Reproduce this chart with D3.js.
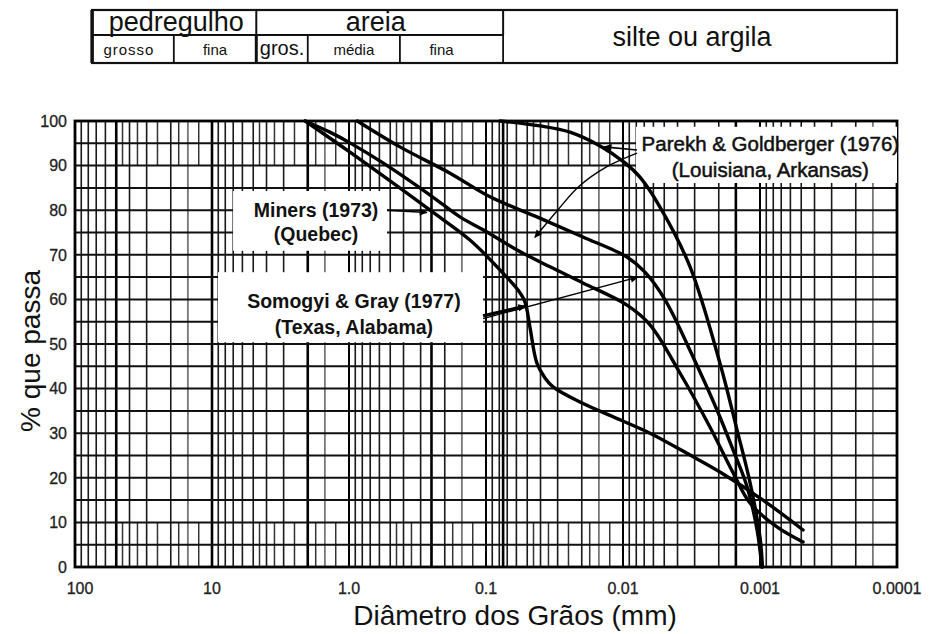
<!DOCTYPE html>
<html>
<head>
<meta charset="utf-8">
<script src="https://cdn.jsdelivr.net/npm/d3@7"></script>
<style>
  html, body { margin: 0; padding: 0; background: #fff; }
  svg { display: block; font-family: "Liberation Sans", Arial, Helvetica, sans-serif; }
</style>
</head>
<body>
<svg id="chart" width="930" height="634"></svg>
<script>
// ---- Axis values ----------------------------------------------------------
const decadeValues = [100, 10, 1, 0.1, 0.01, 0.001, 0.0001];
const decadeLabels = ["100", "10", "1.0", "0.1", "0.01", "0.001", "0.0001"];
const percentTicks = [0, 10, 20, 30, 40, 50, 60, 70, 80, 90, 100];
const percentGrid = [0, 5, 10, 15, 20, 25, 30, 35, 40, 45, 50, 55, 60, 65, 70, 75, 80, 85, 90, 95, 100];

// log-paper rulings inside each decade, sieve openings drawn heavier,
// and the short rulings of the top and bottom bands
const gridMultiples = [2, 3, 4, 5, 6, 7, 8, 9];
const lightMultiples = [1.5];
const sieveOpenings = [50, 10, 2.0, 0.25, 0.075, 0.0015];
const bandMultiples = [1.25, 1.75, 2.5, 3.5, 4.5];
const bandDecades = [10, 1, 0.1, 0.01];

// ---- Soil classification header (diameter limits, mm) ---------------------
const headerMain = ["pedregulho", "areia"];
const headerMainLimits = [[75, 4.75], [4.75, 0.075]];
const headerSub = ["grosso", "fina", "gros.", "média", "fina"];
const headerSubLimits = [[75, 19], [19, 4.75], [4.75, 2.0], [2.0, 0.425], [0.425, 0.075]];
const headerFines = "silte ou argila";
const headerFinesLimits = [0.075, 0.0001];

// ---- Grain-size curves: diameter (mm) and percent passing ------------------
const parekhLouisianaDiam = [0.0791, 0.0403, 0.0244, 0.0147, 0.00967, 0.00752, 0.00537, 0.00324, 0.00196, 0.00147, 0.00118, 0.00100, 0.00096];
const parekhLouisianaPct  = [100, 98.9, 97.5, 94.4, 90.6, 87.4, 80.7, 67.3, 45.7, 30.7, 18.8, 6.7, 0];

const parekhArkansasDiam = [0.87, 0.425, 0.183, 0.0935, 0.0425, 0.0196, 0.00935, 0.00691, 0.00493, 0.00308, 0.00206, 0.00157, 0.00124, 0.00105, 0.00097];
const parekhArkansasPct  = [100, 94.2, 88.3, 83.0, 78.5, 74.0, 69.5, 66.1, 59.9, 47.1, 35.2, 26.2, 17.9, 8.3, 0];

const minersQuebecDiam = [2.09, 1.38, 0.984, 0.565, 0.256, 0.155, 0.105, 0.0594, 0.0341, 0.0196, 0.00935, 0.00635, 0.00384, 0.00232, 0.00157, 0.00118, 0.000752, 0.000485];
const minersQuebecPct  = [100, 97.5, 95.1, 90.6, 83.4, 78.5, 75.6, 71.1, 67.3, 63.7, 58.7, 54.3, 43.5, 31.4, 21.1, 14.3, 9.0, 5.6];

const somogyiGrayDiam = [2.09, 0.984, 0.256, 0.131, 0.0752, 0.0584, 0.0519, 0.0478, 0.0425, 0.0371, 0.0324, 0.0206, 0.0105, 0.00635, 0.00324, 0.00196, 0.000951, 0.000485];
const somogyiGrayPct  = [100, 93.0, 80.0, 73.3, 65.9, 62.1, 59.4, 53.8, 45.7, 42.4, 40.4, 37.0, 33.0, 30.0, 25.1, 21.3, 15.0, 8.3];

// ---- Source labels (white boxes, text lines, leader arrows) ---------------
const labelBoxes = [
  { d: [7.02, 0.528], p: [84.3, 70.9] },
  { d: [9.04, 0.105], p: [66.1, 50.4] },
  { d: [0.00804, 0.0001], p: [98.7, 86.1] }
];
const labelLines = [
  { text: "Miners (1973)", d: 1.74, p: 78.4, bold: true },
  { text: "(Quebec)", d: 1.74, p: 73.2, bold: true },
  { text: "Somogyi & Gray (1977)", d: 0.92, p: 58.0, bold: true },
  { text: "(Texas, Alabama)", d: 0.92, p: 52.2, bold: true },
  { text: "Parekh & Goldberger (1976)", d: 0.00084, p: 93.3, bold: false },
  { text: "(Louisiana, Arkansas)", d: 0.00084, p: 87.4, bold: false }
];
const leaderArrows = [
  { d: [0.528, 0.270], p: [80.0, 79.5], w: 1.6 },
  { d: [0.105, 0.0515], p: [56.3, 58.5], w: 3.2 },
  { d: [0.105, 0.0078], p: [55.7, 65.0], w: 1.4 },
  { d: [0.0079, 0.0137], p: [93.5, 94.2], w: 1.6 },
  { d: [0.0079, 0.0132, 0.0210, 0.0300, 0.0440], p: [92.8, 89.7, 85.3, 80.0, 73.9], w: 1.4 }
];

// ---- Scales ---------------------------------------------------------------
const svg = d3.select("#chart");
const x = d3.scaleLog().domain([100, 0.0001]).range([75, 897]);
const y = d3.scaleLinear().domain([0, 100]).range([567, 121]);

// ---- Header table ----------------------------------------------------------
const hTop = 10, hMid = 35, hBot = 63;
const header = svg.append("g").attr("fill", "none").attr("stroke", "#111");
header.append("rect")
  .attr("x", x(headerMainLimits[0][0])).attr("y", hTop)
  .attr("width", x(headerFinesLimits[1]) - x(headerMainLimits[0][0]))
  .attr("height", hBot - hTop).attr("stroke-width", 2.2);
header.append("line")
  .attr("x1", x(headerMainLimits[0][0])).attr("x2", x(headerFinesLimits[0]))
  .attr("y1", hMid).attr("y2", hMid).attr("stroke-width", 2);
header.selectAll("line.main").data(headerMainLimits).join("line")
  .attr("class", "main")
  .attr("x1", d => x(d[1])).attr("x2", d => x(d[1]))
  .attr("y1", hTop).attr("y2", hMid).attr("stroke-width", 2);
header.selectAll("line.sub").data(headerSubLimits).join("line")
  .attr("class", "sub")
  .attr("x1", d => x(d[1])).attr("x2", d => x(d[1]))
  .attr("y1", hMid).attr("y2", hBot).attr("stroke-width", d => d[1] === 4.75 ? 3 : 1.8);
header.append("line")
  .attr("x1", x(headerMainLimits[0][0])).attr("x2", x(headerMainLimits[0][0]))
  .attr("y1", hTop).attr("y2", hBot).attr("stroke-width", 3.5);

const headerText = svg.append("g").attr("fill", "#111").attr("text-anchor", "middle");
headerText.selectAll("text.main").data(headerMain).join("text")
  .attr("class", "main")
  .attr("x", (d, i) => (x(headerMainLimits[i][0]) + x(headerMainLimits[i][1])) / 2 + (i === 0 ? 2 : -4))
  .attr("y", hMid - 4)
  .attr("font-size", 27)
  .text(d => d);
headerText.selectAll("text.sub").data(headerSub).join("text")
  .attr("class", "sub")
  .attr("x", (d, i) => (x(headerSubLimits[i][0]) + x(headerSubLimits[i][1])) / 2 - (i === 0 ? 4 : i === 4 ? 10 : 0))
  .attr("y", hBot - 8)
  .attr("font-size", (d, i) => i === 2 ? 20 : 15)
  .attr("letter-spacing", (d, i) => i === 0 ? 1 : 0)
  .text(d => d);
headerText.append("text")
  .attr("x", (x(headerFinesLimits[0]) + x(headerFinesLimits[1])) / 2 - 8)
  .attr("y", (hTop + hBot) / 2 + 9)
  .attr("font-size", 27)
  .text(headerFines);

// ---- Grid -----------------------------------------------------------------
const grid = svg.append("g").attr("fill", "none");
const decadeFloors = decadeValues.slice(1);           // 10, 1, ..., 0.0001
const fullRulings = decadeFloors.flatMap(b => gridMultiples.map(m => b * m));
const lightRulings = decadeFloors.flatMap(b => lightMultiples.map(m => b * m));
const bandRulings = bandDecades.flatMap(b => bandMultiples.map(m => b * m));

grid.selectAll("line.light").data(lightRulings).join("line")
  .attr("class", "light")
  .attr("x1", d => x(d)).attr("x2", d => x(d))
  .attr("y1", y(0)).attr("y2", y(100))
  .attr("stroke", "#777").attr("stroke-width", 1.8);
grid.selectAll("line.full").data(fullRulings).join("line")
  .attr("class", "full")
  .attr("x1", d => x(d)).attr("x2", d => x(d))
  .attr("y1", y(0)).attr("y2", y(100))
  .attr("stroke", "#1a1a1a").attr("stroke-width", 1.6);
grid.selectAll("line.band").data(bandRulings.flatMap(d => [[d, 0, 10], [d, 90, 100]])).join("line")
  .attr("class", "band")
  .attr("x1", d => x(d[0])).attr("x2", d => x(d[0]))
  .attr("y1", d => y(d[1])).attr("y2", d => y(d[2]))
  .attr("stroke", "#333").attr("stroke-width", 1.5);
grid.selectAll("line.sieve").data(sieveOpenings).join("line")
  .attr("class", "sieve")
  .attr("x1", d => x(d)).attr("x2", d => x(d))
  .attr("y1", y(0)).attr("y2", y(100))
  .attr("stroke", "#000").attr("stroke-width", 2.6);
grid.selectAll("line.decade").data(decadeValues).join("line")
  .attr("class", "decade")
  .attr("x1", d => x(d)).attr("x2", d => x(d))
  .attr("y1", y(0)).attr("y2", y(100))
  .attr("stroke", "#000").attr("stroke-width", 2);
grid.selectAll("line.pct").data(percentGrid).join("line")
  .attr("class", "pct")
  .attr("x1", x(100)).attr("x2", x(0.0001))
  .attr("y1", d => y(d)).attr("y2", d => y(d))
  .attr("stroke", "#111").attr("stroke-width", 2);

// frame
svg.append("rect")
  .attr("x", x(100)).attr("y", y(100))
  .attr("width", x(0.0001) - x(100)).attr("height", y(0) - y(100))
  .attr("fill", "none").attr("stroke", "#000").attr("stroke-width", 2.8);

// ---- Label boxes (white) ---------------------------------------------------
svg.append("g").selectAll("rect").data(labelBoxes).join("rect")
  .attr("x", d => x(d.d[0])).attr("y", d => y(d.p[0]))
  .attr("width", d => x(d.d[1]) - x(d.d[0]))
  .attr("height", d => y(d.p[1]) - y(d.p[0]))
  .attr("fill", "#fff");

// ---- Curves ---------------------------------------------------------------
const curves = [
  { name: "Parekh & Goldberger - Louisiana", d: parekhLouisianaDiam, p: parekhLouisianaPct },
  { name: "Parekh & Goldberger - Arkansas", d: parekhArkansasDiam, p: parekhArkansasPct },
  { name: "Miners - Quebec", d: minersQuebecDiam, p: minersQuebecPct },
  { name: "Somogyi & Gray - Texas, Alabama", d: somogyiGrayDiam, p: somogyiGrayPct }
];
const line = d3.line()
  .x(d => x(d[0])).y(d => y(d[1]))
  .curve(d3.curveCatmullRom.alpha(0.5));
svg.append("g").selectAll("path").data(curves).join("path")
  .attr("d", c => line(c.d.map((v, i) => [v, c.p[i]])))
  .attr("fill", "none").attr("stroke", "#000")
  .attr("stroke-width", 3.4).attr("stroke-linecap", "round").attr("stroke-linejoin", "round");

// ---- Leader arrows --------------------------------------------------------
const defs = svg.append("defs");
defs.append("marker")
  .attr("id", "head").attr("viewBox", "0 0 10 10")
  .attr("refX", 9).attr("refY", 5)
  .attr("markerWidth", 9).attr("markerHeight", 8)
  .attr("markerUnits", "userSpaceOnUse")
  .attr("orient", "auto")
  .append("path").attr("d", "M0,0.5 L10,5 L0,9.5 Z").attr("fill", "#000");
const leader = d3.line().x(d => x(d[0])).y(d => y(d[1])).curve(d3.curveCatmullRom.alpha(0.5));
svg.append("g").selectAll("path").data(leaderArrows).join("path")
  .attr("d", a => leader(a.d.map((v, i) => [v, a.p[i]])))
  .attr("fill", "none").attr("stroke", "#000")
  .attr("stroke-width", a => a.w)
  .attr("marker-end", "url(#head)");

// ---- Label text -----------------------------------------------------------
svg.append("g").selectAll("text").data(labelLines).join("text")
  .attr("x", d => x(d.d)).attr("y", d => y(d.p))
  .attr("text-anchor", "middle")
  .attr("font-size", d => d.bold ? 19.5 : 20.5)
  .attr("font-weight", d => d.bold ? "bold" : "normal")
  .attr("fill", "#111")
  .attr("stroke", d => d.bold ? "none" : "#111")
  .attr("stroke-width", 0.5)
  .text(d => d.text);

// ---- Axes labels ----------------------------------------------------------
svg.append("g").selectAll("text").data(percentTicks).join("text")
  .attr("x", x(100) - 8).attr("y", d => y(d))
  .attr("dy", "0.36em")
  .attr("text-anchor", "end")
  .attr("font-size", 16).attr("fill", "#222")
  .attr("stroke", "#222").attr("stroke-width", 0.3)
  .text(d => d);

svg.append("g").selectAll("text").data(decadeValues).join("text")
  .attr("x", (d, i) => x(d) + (i === 0 ? 5 : 0)).attr("y", y(0) + 27)
  .attr("text-anchor", "middle")
  .attr("font-size", 16).attr("fill", "#222")
  .attr("stroke", "#222").attr("stroke-width", 0.3)
  .text((d, i) => decadeLabels[i]);

svg.append("text")
  .attr("x", 515).attr("y", 625)
  .attr("text-anchor", "middle")
  .attr("font-size", 28).attr("fill", "#111")
  .text("Diâmetro dos Grãos (mm)");

svg.append("text")
  .attr("transform", `translate(40, ${y(50) + 7}) rotate(-90)`)
  .attr("text-anchor", "middle")
  .attr("font-size", 28).attr("fill", "#111")
  .text("% que passa");
</script>
</body>
</html>
